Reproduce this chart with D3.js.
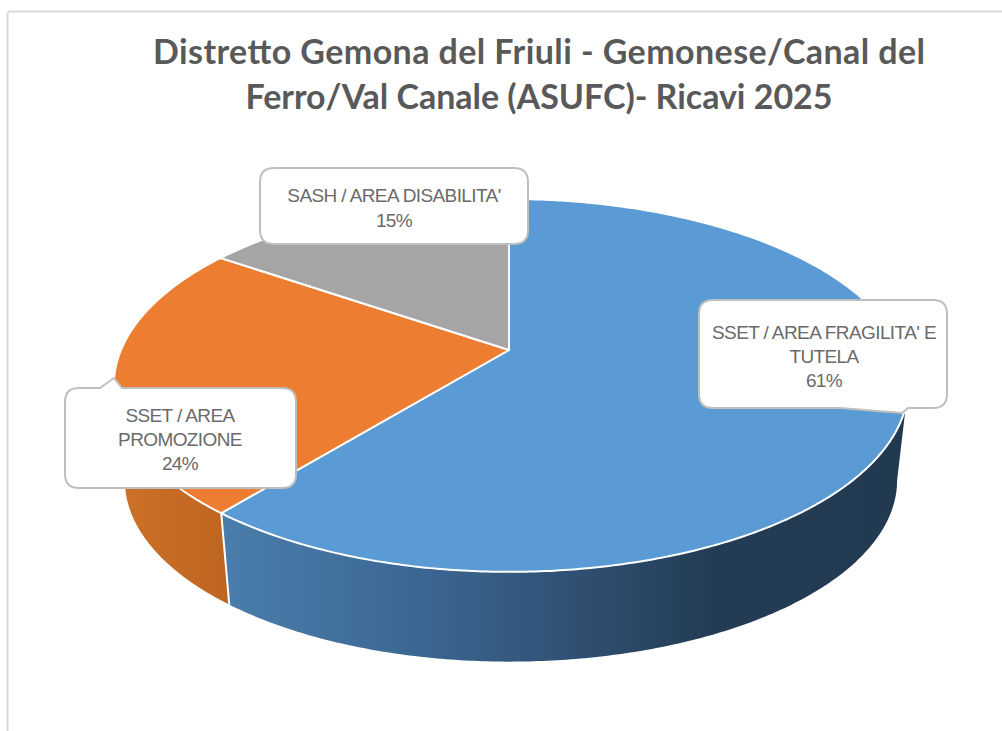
<!DOCTYPE html>
<html><head><meta charset="utf-8">
<script src="https://cdn.jsdelivr.net/npm/d3@7"></script>
<style>html,body{margin:0;padding:0;background:#fff;overflow:hidden}</style>
</head><body><svg id="c" width="1002" height="731"></svg>
<script>
const categories = ["SSET / AREA FRAGILITA' E TUTELA", "SSET / AREA PROMOZIONE", "SASH / AREA DISABILITA'"];
const labelLines = [["SSET / AREA FRAGILITA' E","TUTELA"],["SSET / AREA","PROMOZIONE"],["SASH / AREA DISABILITA'"]];
const values = [60.9, 23.7, 15.4];
const topColors = ["#5b9bd5","#ed7d31","#a5a5a5"];
const titleLines = ["Distretto Gemona del Friuli - Gemonese/Canal del","Ferro/Val Canale (ASUFC)- Ricavi 2025"];

const svg = d3.select("#c");
const defs = svg.append("defs");
// perspective projection of the flat disc
const k = 0.19, cx = 509, cyTop = 350, AL = 388, AR = 392, B = 179.7, depthScale = 0.972, cyBot = 446;
function project(angle, cy, s){
  const u = Math.sin(angle), v = -Math.cos(angle), w = 1 - k*v;
  return [cx + s*(u<0?AL:AR)*u/w, cy + s*B*v/w];
}
const topP = a => project(a, cyTop, 1), botP = a => project(a, cyBot, depthScale);
const arcs = d3.pie().sort(null).value(d=>d)(values);
const line = d3.line();
const sample = (a,b) => { const n = Math.max(2, Math.ceil(Math.abs(b-a)/0.01)); return d3.range(n+1).map(i=>a+(b-a)*i/n); };
const rightA = Math.PI - Math.acos(k), leftA = Math.PI + Math.acos(k);

// frame
svg.append("path").attr("d","M7.5,731V14Q7.5,11.5 10,11.5H1002").attr("fill","none").attr("stroke","#d9d9d9").attr("stroke-width",2);

// side walls
const g1 = defs.append("linearGradient").attr("id","gBlue").attr("gradientUnits","userSpaceOnUse").attr("x1",229).attr("x2",905).attr("y1",0).attr("y2",0);
[[0,"#4a7dab"],[0.3,"#3a6590"],[0.55,"#2e4c6d"],[0.72,"#233c54"],[1,"#223a50"]].forEach(s=>g1.append("stop").attr("offset",s[0]).attr("stop-color",s[1]));
const g2 = defs.append("linearGradient").attr("id","gOr").attr("gradientUnits","userSpaceOnUse").attr("x1",115).attr("x2",230).attr("y1",0).attr("y2",0);
[[0,"#cf7128"],[1,"#bd6521"]].forEach(s=>g2.append("stop").attr("offset",s[0]).attr("stop-color",s[1]));
function wall(a,b,fill){
  const as = sample(a,b);
  const pts = as.map(topP).concat(as.slice().reverse().map(botP));
  svg.append("path").attr("d",line(pts)+"Z").attr("fill",fill);
}
wall(rightA, arcs[0].endAngle, "url(#gBlue)");
wall(arcs[0].endAngle, leftA, "url(#gOr)");
const eb = arcs[0].endAngle;
svg.append("path").attr("d",line([topP(eb),botP(eb)])).attr("stroke","#fff").attr("stroke-width",2).attr("fill","none");

// top slices
arcs.forEach((d,i)=>{
  const pts = [[cx,cyTop]].concat(sample(d.startAngle,d.endAngle).map(topP));
  svg.append("path").attr("d",line(pts)+"Z").attr("fill",topColors[i]).attr("stroke","#fff").attr("stroke-width",2).attr("stroke-linejoin","round");
});

// callouts
function callout(x0,y0,x1,y1,r,tail){
  let d = `M${x0+r},${y0}`;
  if(tail.side==="top"){ d += `H${tail.x0}L${tail.tx},${tail.ty}L${tail.x1},${y0}`; }
  d += `H${x1-r}Q${x1},${y0} ${x1},${y0+r}V${y1-r}Q${x1},${y1} ${x1-r},${y1}`;
  if(tail.side==="bottom"){ d += `H${tail.x1}L${tail.tx},${tail.ty}L${tail.x0},${y1}`; }
  d += `H${x0+r}Q${x0},${y1} ${x0},${y1-r}V${y0+r}Q${x0},${y0} ${x0+r},${y0}Z`;
  return d;
}
const boxes = [
 {b:[699,300,947,408],tail:{side:"bottom",x0:840,x1:908,tx:902,ty:413},cx:824,y:[339,363,387]},
 {b:[65,388,296,488],tail:{side:"top",x0:100,x1:122,tx:114,ty:378},cx:180,y:[422,446,470]},
 {b:[260,168,528,244],tail:{side:"none"},cx:394,y:[202,227]}
];
boxes.forEach((bx,i)=>{
  svg.append("path").attr("d",callout(...bx.b,14,bx.tail)).attr("fill","#fff").attr("stroke","#bfbfbf").attr("stroke-width",2);
  const lines = labelLines[i].concat([Math.round(values[i])+"%"]);
  svg.append("g").selectAll("text").data(lines).join("text")
    .attr("x",bx.cx).attr("y",(d,j)=>bx.y[j]).attr("text-anchor","middle")
    .attr("font-family","Liberation Sans").attr("font-size",19).attr("letter-spacing",-0.6)
    .attr("fill","#6a6a6a").text(d=>d);
});

// title
svg.append("g").selectAll("text").data(titleLines).join("text")
  .attr("x",539).attr("y",(d,i)=>[64,109][i]).attr("text-anchor","middle")
  .attr("font-family","Lato").attr("font-weight",700).attr("font-size",34)
  .attr("textLength",(d,i)=>[772,587][i]).attr("lengthAdjust","spacing")
  .attr("fill","#595959").text(d=>d);
</script></body></html>
